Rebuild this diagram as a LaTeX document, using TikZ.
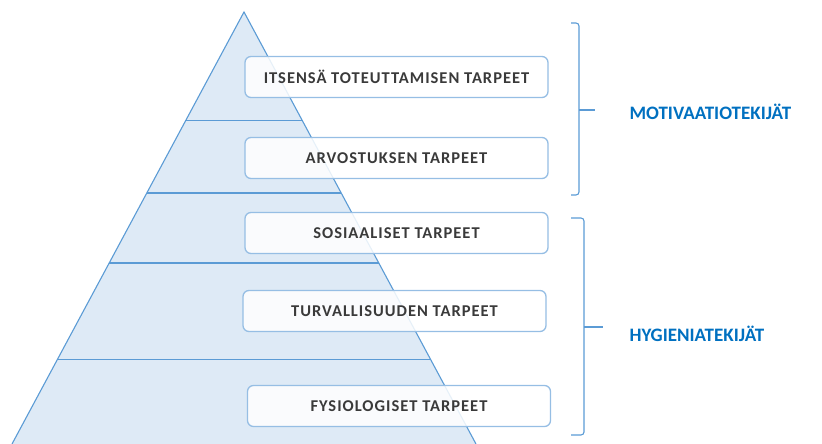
\documentclass[tikz,border=0pt]{standalone}
\usepackage{fontspec}
\setmainfont{Carlito}
\newfontfamily\laatikkofont[LetterSpace=6]{Carlito}
\usepackage{xcolor}
\usepackage{tikz}
\usetikzlibrary{calc}

\definecolor{pyrline}{RGB}{91,155,213}
\definecolor{pyrfill}{RGB}{222,234,246}
\definecolor{boxline}{RGB}{150,190,228}
\definecolor{boxtext}{RGB}{58,58,58}
\definecolor{labelblue}{RGB}{0,112,192}

\tikzset{
  tarve/.style={draw=boxline, line width=1.3pt, rounded corners=6pt, fill=white, fill opacity=0.85, text opacity=1,
    minimum width=303pt, minimum height=41pt, text=boxtext, font=\laatikkofont\fontsize{16.5}{19}\selectfont\bfseries},
  ryhma/.style={text=labelblue, font=\fontsize{19}{22}\selectfont\bfseries, anchor=west},
  sulku/.style={draw=pyrline, line width=1.1pt, rounded corners=3pt}
}

\begin{document}
\begin{tikzpicture}[x=1pt,y=-1pt]
			\useasboundingbox (0,0) rectangle (822,444);
			\clip (0,0) rectangle (822,444);
			% Pyramidi
			\coordinate (huippu) at (244,12);
			\coordinate (vasen) at (12,444);
			\coordinate (oikea) at (476,444);
			\draw [pyrline, fill=pyrfill, line width=1.1pt] (vasen) -- (huippu) -- (oikea);
			\foreach \t in {0.252,0.419,0.581,0.805}
			\draw [pyrline, line width=1.1pt] ($(huippu)!\t!(vasen)$) -- ($(huippu)!\t!(oikea)$);
			% Laatikot
			\node [tarve] (itse) at (396.5,77) {ITSENSÄ TOTEUTTAMISEN TARPEET};
			\node [tarve] (arvo) at (396.5,158) {ARVOSTUKSEN TARPEET};
			\node [tarve] (sosi) at (396.5,233) {SOSIAALISET TARPEET};
			\node [tarve] (turva) at (394.5,311) {TURVALLISUUDEN TARPEET};
			\node [tarve] (fysio) at (399,406) {FYSIOLOGISET TARPEET};
			% Sulkeet
			\draw [sulku] (571,23) -- (579,23) -- (579,195) -- (571,195);
			\draw [pyrline, line width=1.1pt] (579,110) -- (595,110);
			\draw [sulku] (571,218) -- (584,218) -- (584,435) -- (571,435);
			\draw [pyrline, line width=1.1pt] (584,327) -- (603,327);
			\node [ryhma] (motiv) at (626,112) {MOTIVAATIOTEKIJÄT};
			\node [ryhma] (hygie) at (626,334) {HYGIENIATEKIJÄT};
\end{tikzpicture}
\end{document}
